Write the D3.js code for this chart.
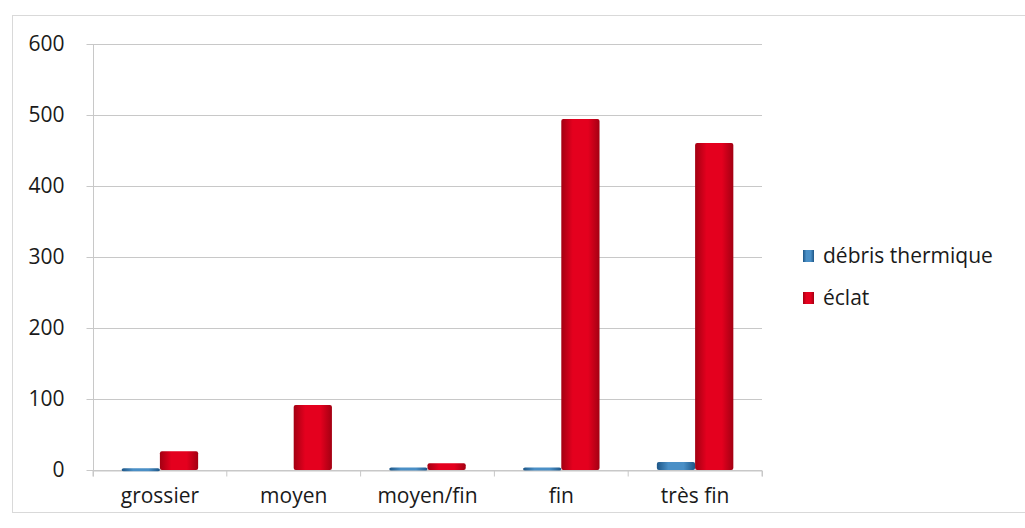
<!DOCTYPE html>
<html><head><meta charset="utf-8">
<script src="https://cdn.jsdelivr.net/npm/d3@7"></script>
<style>body{margin:0;background:#fff;}svg{display:block;font-family:"Open Sans",sans-serif;}</style>
</head><body>
<script>
const categories = ["grossier","moyen","moyen/fin","fin","très fin"];
const seriesNames = ["débris thermique","éclat"];
const debris = [1,0,2,2,10];
const eclat = [25,90,8,493,459];
const yTicks = [0,100,200,300,400,500,600];

const W=1025,H=528;
const FS="21px";
const svg=d3.select("body").append("svg").attr("width",W).attr("height",H);
const defs=svg.append("defs");
function grad(id,edge,mid){
  const g=defs.append("linearGradient").attr("id",id).attr("x1","0").attr("x2","1").attr("y1","0").attr("y2","0");
  g.append("stop").attr("offset","0").attr("stop-color",edge);
  g.append("stop").attr("offset","0.3").attr("stop-color",mid);
  g.append("stop").attr("offset","0.7").attr("stop-color",mid);
  g.append("stop").attr("offset","1").attr("stop-color",edge);
}
grad("gRed","#a30012","#e4001e");
grad("gBlue","#1d5687","#4a8fc6");
const fills=["url(#gBlue)","url(#gRed)"];

svg.append("rect").attr("x",12.5).attr("y",15.5).attr("width",1030).attr("height",497).attr("fill","#fff").attr("stroke","#d9d9d9");

const m={l:93,r:762,t:44,b:470};
const x=d3.scaleBand().domain(categories).range([m.l,m.r]).paddingInner(0).paddingOuter(0);
const y=d3.scaleLinear().domain([0,600]).range([m.b,m.t]);
const bw=x.bandwidth()/3.5;
const x1=d3.scaleBand().domain(seriesNames).range([bw*0.75,bw*2.75]);

// gridlines
svg.append("g").selectAll("line").data(yTicks).join("line")
  .attr("x1",m.l).attr("x2",m.r).attr("y1",d=>y(d)+0.5).attr("y2",d=>y(d)+0.5)
  .attr("stroke","#c8c8c8").attr("stroke-width",1.2);

// y axis
const ya=svg.append("g").attr("transform",`translate(${m.l+0.5},0)`)
  .call(d3.axisLeft(y).tickValues(yTicks).tickSize(7).tickPadding(22));
ya.select(".domain").attr("stroke","#c8c8c8").attr("d",`M0,${m.t}V${m.b}`);
ya.selectAll(".tick line").attr("stroke","#c8c8c8");
ya.selectAll("text").attr("fill","#1a1a1a").style("font-size",FS).style("font-family","Open Sans, sans-serif");

// x axis
const xa=svg.append("g").attr("transform",`translate(0,${m.b+0.5})`)
  .call(d3.axisBottom(x).tickSize(6).tickPadding(12));
xa.select(".domain").attr("stroke","#c8c8c8");
xa.selectAll(".tick line").attr("stroke","#c8c8c8").attr("transform",`translate(${-x.bandwidth()/2},0)`);
xa.append("line").attr("x1",m.r).attr("x2",m.r).attr("y1",0).attr("y2",6).attr("stroke","#c8c8c8");
xa.selectAll("text").attr("fill","#1a1a1a").style("font-size",FS).style("font-family","Open Sans, sans-serif");

// bars
const data=[debris,eclat];
data.forEach((vals,si)=>{
  svg.append("g").selectAll("rect").data(vals).join("rect")
    .attr("x",(d,i)=>x(categories[i])+x1(seriesNames[si]))
    .attr("width",x1.bandwidth())
    .attr("y",d=>y(d)-1)
    .attr("height",d=>d>0?Math.max(y(0)-y(d)+1,3):0)
    .attr("fill",fills[si]).attr("rx",2);
});

// legend
const lg=svg.append("g").attr("transform","translate(803,250)");
seriesNames.forEach((n,i)=>{
  const g=lg.append("g").attr("transform",`translate(0,${i*42})`);
  g.append("rect").attr("x",0).attr("y",0).attr("width",11).attr("height",12).attr("fill",fills[i]);
  g.append("text").attr("x",20).attr("y",13).attr("fill","#1a1a1a").style("font-size",FS).text(n);
});
</script>
</body></html>
